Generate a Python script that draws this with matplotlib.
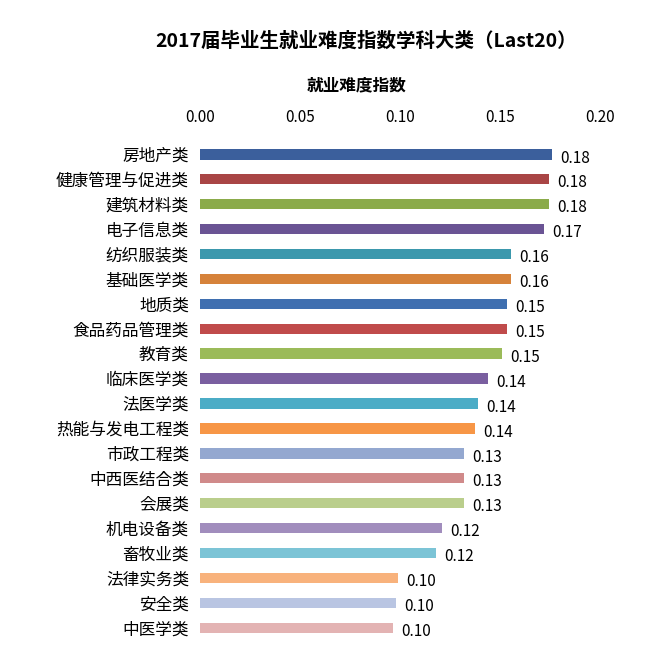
import matplotlib
matplotlib.use("Agg")
import matplotlib.pyplot as plt
from matplotlib import font_manager

cjk = [f.name for f in font_manager.fontManager.ttflist if "CJK" in f.name]
cjk_name = "Noto Sans CJK SC" if "Noto Sans CJK SC" in cjk else (cjk[0] if cjk else "DejaVu Sans")
plt.rcParams["font.family"] = "sans-serif"
plt.rcParams["font.sans-serif"] = [cjk_name, "DejaVu Sans"]

categories = ["房地产类", "健康管理与促进类", "建筑材料类", "电子信息类", "纺织服装类",
              "基础医学类", "地质类", "食品药品管理类", "教育类", "临床医学类",
              "法医学类", "热能与发电工程类", "市政工程类", "中西医结合类", "会展类",
              "机电设备类", "畜牧业类", "法律实务类", "安全类", "中医学类"]
values = [0.176, 0.1745, 0.1745, 0.172, 0.1555, 0.1555, 0.1535, 0.1535, 0.151, 0.144,
          0.139, 0.1375, 0.132, 0.132, 0.132, 0.121, 0.118, 0.099, 0.098, 0.0965]
labels = ["0.18", "0.18", "0.18", "0.17", "0.16", "0.16", "0.15", "0.15", "0.15", "0.14",
          "0.14", "0.14", "0.13", "0.13", "0.13", "0.12", "0.12", "0.10", "0.10", "0.10"]
colors = ["#3b5f9c", "#a94545", "#8bab4a", "#6a5494", "#3b98ad", "#d6823a",
          "#3f6fb0", "#c04b4b", "#9bbb59", "#7a5fa0", "#4bacc6", "#f79646",
          "#94a8d0", "#d08a8a", "#bace8c", "#a18dbd", "#7cc4d6", "#f8b27c",
          "#b9c5e2", "#e3b3b3"]
ticks = [0.00, 0.05, 0.10, 0.15, 0.20]

fig = plt.figure(figsize=(6.54, 6.58), dpi=100)
ax = fig.add_axes([0.306, 0.027, 0.611, 0.765])
y = list(range(len(categories)))
ax.barh(y, values, height=0.42, color=colors)
for yi, v, lab in zip(y, values, labels):
    ax.text(v + 0.004, yi + 0.15, lab, va="center", ha="left", fontsize=11)
ax.set_ylim(len(categories) - 0.5, -0.7)
ax.set_xlim(0, 0.2)
ax.set_yticks(y)
ax.set_yticklabels(categories, fontsize=12)
ax.set_xticks(ticks)
ax.set_xticklabels([f"{t:.2f}" for t in ticks], fontsize=11)
ax.xaxis.tick_top()
ax.tick_params(length=0, pad=8)
for s in ax.spines.values():
    s.set_visible(False)
fig.text(0.56, 0.937, "2017届毕业生就业难度指数学科大类（Last20）",
         ha="center", va="center", fontsize=14, fontweight="bold")
fig.text(0.545, 0.87, "就业难度指数", ha="center", va="center", fontsize=12, fontweight="bold")
fig.savefig("out.png", dpi=100)
